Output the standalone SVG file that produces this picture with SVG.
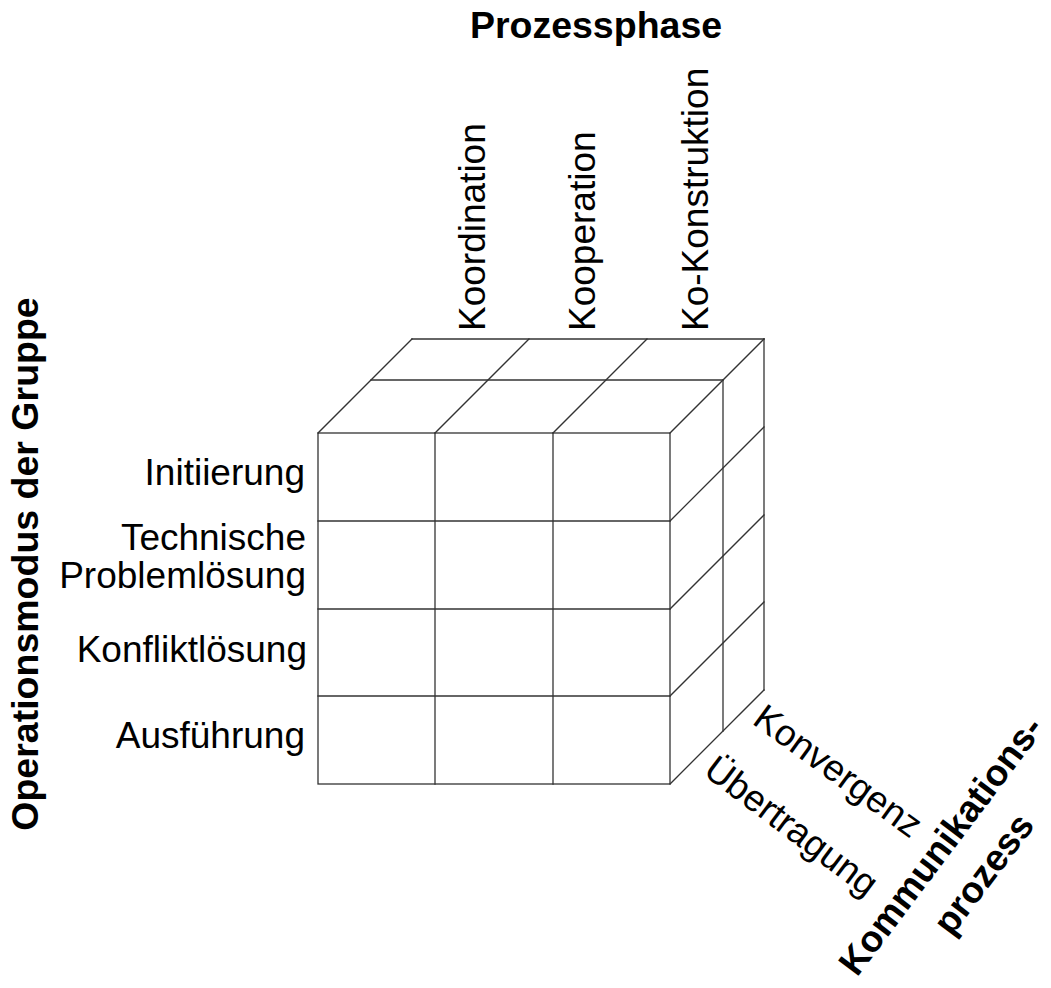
<svg xmlns="http://www.w3.org/2000/svg" width="1051" height="988" viewBox="0 0 1051 988">
  <style>
    .edge { stroke: #333; stroke-width: 1.3; fill: none; stroke-linecap: square; }
    .lbl { font-family: "Liberation Sans", Arial, sans-serif; font-size: 37px; fill: #000; }
    .ttl { font-family: "Liberation Sans", Arial, sans-serif; font-size: 37.5px; font-weight: bold; fill: #000; }
  </style>
  <rect width="1051" height="988" fill="#fff"/>

  <!-- cube edges: front grid, top face, right face -->
  <g id="connectors">
    <g id="front-face" class="edge">
      <rect x="318" y="433" width="352" height="351"/>
      <line x1="435" y1="433" x2="435" y2="784"/>
      <line x1="553" y1="433" x2="553" y2="784"/>
      <line x1="318" y1="521" x2="670" y2="521"/>
      <line x1="318" y1="609" x2="670" y2="609"/>
      <line x1="318" y1="696" x2="670" y2="696"/>
    </g>
    <g id="top-face" class="edge">
      <line x1="412" y1="339" x2="764" y2="339"/>
      <line x1="371" y1="380" x2="723" y2="380"/>
      <line x1="318" y1="433" x2="412" y2="339"/>
      <line x1="435" y1="433" x2="529" y2="339"/>
      <line x1="553" y1="433" x2="647" y2="339"/>
      <line x1="670" y1="433" x2="764" y2="339"/>
    </g>
    <g id="right-face" class="edge">
      <line x1="723" y1="380" x2="723" y2="731"/>
      <line x1="764" y1="339" x2="764" y2="690"/>
      <line x1="670" y1="521" x2="764" y2="427"/>
      <line x1="670" y1="609" x2="764" y2="515"/>
      <line x1="670" y1="696" x2="764" y2="602"/>
      <line x1="670" y1="784" x2="764" y2="690"/>
    </g>
  </g>

  <!-- axis: process phase -->
  <g id="axis-prozessphase">
    <text class="ttl" x="596" y="38" text-anchor="middle">Prozessphase</text>
    <text class="lbl" transform="translate(485,331) rotate(-90)">Koordination</text>
    <text class="lbl" transform="translate(595,331) rotate(-90)">Kooperation</text>
    <text class="lbl" transform="translate(708,331) rotate(-90)">Ko-Konstruktion</text>
  </g>

  <!-- axis: operating mode of the group -->
  <g id="axis-operationsmodus">
    <text class="ttl" transform="translate(38,564) rotate(-90)" text-anchor="middle">Operationsmodus der Gruppe</text>
    <text class="lbl" x="305" y="485" text-anchor="end">Initiierung</text>
    <text class="lbl" x="306" y="550" text-anchor="end">Technische</text>
    <text class="lbl" x="306" y="588" text-anchor="end">Problemlösung</text>
    <text class="lbl" x="307" y="662" text-anchor="end">Konfliktlösung</text>
    <text class="lbl" x="305" y="748" text-anchor="end">Ausführung</text>
  </g>

  <!-- axis: communication process -->
  <g id="axis-kommunikation">
    <text class="lbl" transform="translate(751,723) rotate(36)">Konvergenz</text>
    <text class="lbl" transform="translate(702,774) rotate(37)">Übertragung</text>
    <text class="ttl" style="font-size:37px" transform="translate(951,853) rotate(-53)" text-anchor="middle">Kommunikations-<tspan x="3" dy="51">prozess</tspan></text>
  </g>
</svg>
